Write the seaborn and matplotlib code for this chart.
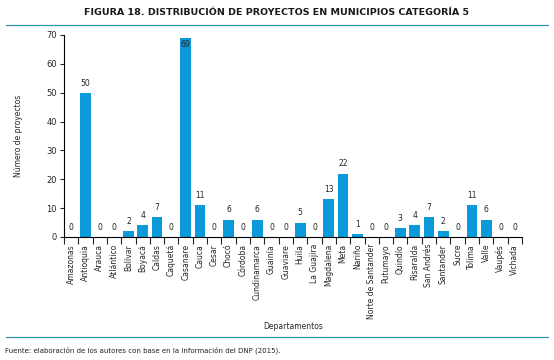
import numpy as np
import pandas as pd
import matplotlib
matplotlib.use("Agg")
import matplotlib.pyplot as plt
import seaborn as sns

### Data

departamentos = ["Amazonas", "Antioquia", "Arauca", "Atlántico", "Bolívar", "Boyacá",
                 "Caldas", "Caquetá", "Casanare", "Cauca", "Cesar", "Chocó", "Córdoba",
                 "Cundinamarca", "Guainía", "Guaviare", "Huila", "La Guajira", "Magdalena",
                 "Meta", "Nariño", "Norte de Santander", "Putumayo", "Quindío", "Risaralda",
                 "San Andrés", "Santander", "Sucre", "Tolima", "Valle", "Vaupés", "Vichada"]
proyectos = [0, 50, 0, 0, 2, 4, 7, 0, 69, 11, 0, 6, 0, 6, 0, 0, 5, 0, 13, 22, 1, 0, 0,
             3, 4, 7, 2, 0, 11, 6, 0, 0]
y_ticks = [0, 10, 20, 30, 40, 50, 60, 70]

titulo = "FIGURA 18. DISTRIBUCIÓN DE PROYECTOS EN MUNICIPIOS CATEGORÍA 5"
fuente = "Fuente: elaboración de los autores con base en la información del DNP (2015)."

df = pd.DataFrame({"Departamento": departamentos, "Proyectos": proyectos})

### Style

sns.set_style("white")
plt.rcParams["font.family"] = ["Liberation Sans Narrow", "DejaVu Sans"]
bar_color = "#0a9ad9"
line_color = "#2b97ad"

### Plot

fig = plt.figure(figsize=(5.54, 3.6), dpi=100)
ax = fig.add_axes([0.1155, 0.3417, 0.8267, 0.5611])
sns.barplot(data=df, x="Departamento", y="Proyectos", color=bar_color,
            width=0.75, saturation=1, linewidth=0, edgecolor="none", ax=ax)

# value labels
for p, v in zip(ax.patches, proyectos):
    x = p.get_x() + p.get_width() / 2
    if v > 65:
        ax.text(x, v - 0.6, str(v), ha="center", va="top", fontsize=5.5, color="#222222")
    else:
        ax.text(x, v + 1.8, str(v), ha="center", va="bottom", fontsize=5.5, color="#222222")

ax.set_xlim(-0.5, len(departamentos) - 0.5)
ax.set_ylim(0, 70)
ax.set_yticks(y_ticks)
ax.tick_params(axis="y", labelsize=6, length=3, width=0.8, left=True, pad=2)
ax.set_xticks(range(len(departamentos)))
ax.set_xticklabels(departamentos, rotation=90, fontsize=5.5)
ax.set_xticks(np.arange(-0.5, len(departamentos), 1), minor=True)
ax.tick_params(axis="x", which="major", length=0, pad=5)
ax.tick_params(axis="x", which="minor", length=5, width=0.8, bottom=True)
for s in ["top", "right"]:
    ax.spines[s].set_visible(False)
for s in ["left", "bottom"]:
    ax.spines[s].set_color("black")
    ax.spines[s].set_linewidth(0.8)

ax.set_xlabel("Departamentos", fontsize=5.5)
ax.xaxis.set_label_coords(0.5, -0.42)
ax.set_ylabel("Número de proyectos", fontsize=5.5)
ax.yaxis.set_label_coords(-0.09, 0.5)

# title, rules and source
fig.text(0.5, 0.965, titulo, ha="center", va="center", fontsize=6.8, fontweight="bold",
         color="#1a1a1a")
fig.add_artist(plt.Line2D([0.01, 0.99], [0.93, 0.93], color=line_color, linewidth=0.9))
fig.add_artist(plt.Line2D([0.01, 0.99], [0.064, 0.064], color=line_color, linewidth=0.9))
fig.text(0.009, 0.028, fuente, ha="left", va="center", fontsize=5, color="#222222")

plt.savefig("out.png", dpi=100)
